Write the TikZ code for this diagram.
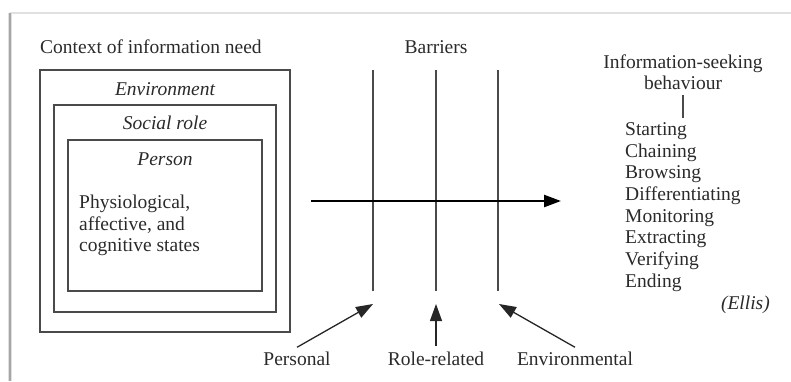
\documentclass[tikz,border=0pt]{standalone}
\usepackage{fontspec}
\setmainfont{Liberation Serif}
\usetikzlibrary{arrows.meta}
\definecolor{ink}{HTML}{2A2A2A}
\definecolor{linec}{HTML}{4A4A4A}
\tikzset{
  lbl/.style={inner sep=0pt, text=ink, font=\fontsize{19.5}{21.7}\selectfont},
  ilbl/.style={lbl, font=\fontsize{19.5}{21.7}\selectfont\itshape},
  boxx/.style={draw=linec, line width=1.4pt, inner sep=0pt},
  barrier/.style={draw=linec, line width=1.4pt},
  bigarrow/.style={draw=black, line width=2.4pt, -{Triangle[length=17pt,width=12pt]}},
  smallarrow/.style={draw=black!85, line width=1.3pt, -{Triangle[length=17pt,width=12pt]}},
}
\begin{document}
\begin{tikzpicture}[x=1pt,y=-1pt]
\useasboundingbox (0,0) rectangle (791,381);
% page frame
\draw[draw=black!12, line width=1.6pt] (10,13) -- (791,13);
\draw[draw=black!12, line width=4pt] (10,13) -- (10,381);
\draw[draw=black!35, line width=1.2pt] (10,13) -- (10,381);

% context boxes
\node[lbl, anchor=base west] (ctx) at (40,53) {Context of information need};
\node[boxx, minimum width=250pt, minimum height=262pt] (env) at (165,201) {};
\node[boxx, minimum width=222pt, minimum height=207pt] (soc) at (165,208.5) {};
\node[boxx, minimum width=194pt, minimum height=151pt] (per) at (165,215.5) {};
\node[ilbl, anchor=base] (envl) at (165,95) {Environment};
\node[ilbl, anchor=base] (socl) at (165,129) {Social role};
\node[ilbl, anchor=base] (perl) at (165,165) {Person};
\node[lbl, anchor=base west] (st1) at (79,208) {Physiological,};
\node[lbl, anchor=base west] (st2) at (79,230) {affective, and};
\node[lbl, anchor=base west] (st3) at (79,251.5) {cognitive states};

% barriers
\node[lbl, anchor=base] (bar) at (436,53) {Barriers};
\coordinate (b1t) at (373,70); \coordinate (b1b) at (373,291); \coordinate (b1x) at (373,304);
\coordinate (b2t) at (436,70); \coordinate (b2b) at (436,291); \coordinate (b2x) at (436,304);
\coordinate (b3t) at (498,70); \coordinate (b3b) at (498,291); \coordinate (b3x) at (499,304);
\draw[barrier] (b1t) -- (b1b);
\draw[barrier] (b2t) -- (b2b);
\draw[barrier] (b3t) -- (b3b);

% main arrow
\coordinate (a0) at (311,201);
\coordinate (a1) at (561,201);
\draw[bigarrow] (a0) -- (a1);

% barrier labels
\node[lbl, anchor=base] (pers) at (297,365) {Personal};
\node[lbl, anchor=base] (role) at (436,365) {Role-related};
\node[lbl, anchor=base] (envr) at (575,365) {Environmental};
\draw[smallarrow] ([yshift=4pt]pers.north) -- (b1x);
\draw[smallarrow] ([yshift=5pt]role.north) -- (b2x);
\draw[smallarrow] ([yshift=4pt]envr.north) -- (b3x);

% information-seeking behaviour
\node[lbl, anchor=base] (isb1) at (683,68) {Information-seeking};
\node[lbl, anchor=base] (isb2) at (683,89.5) {behaviour};
\node[lbl, anchor=base west] (s1) at (625,135) {Starting};
\node[lbl, anchor=base west] (s2) at (625,157) {Chaining};
\node[lbl, anchor=base west] (s3) at (625,178.5) {Browsing};
\node[lbl, anchor=base west] (s4) at (625,200) {Differentiating};
\node[lbl, anchor=base west] (s5) at (625,222) {Monitoring};
\node[lbl, anchor=base west] (s6) at (625,243.5) {Extracting};
\node[lbl, anchor=base west] (s7) at (625,265) {Verifying};
\node[lbl, anchor=base west] (s8) at (625,287) {Ending};
\draw[draw=linec, line width=1.2pt] ([yshift=-5pt]isb2.south) -- ([yshift=4pt]isb2.south |- s1.north);
\node[ilbl, anchor=base east] (ellis) at (770,309) {(Ellis)};
\end{tikzpicture}
\end{document}
